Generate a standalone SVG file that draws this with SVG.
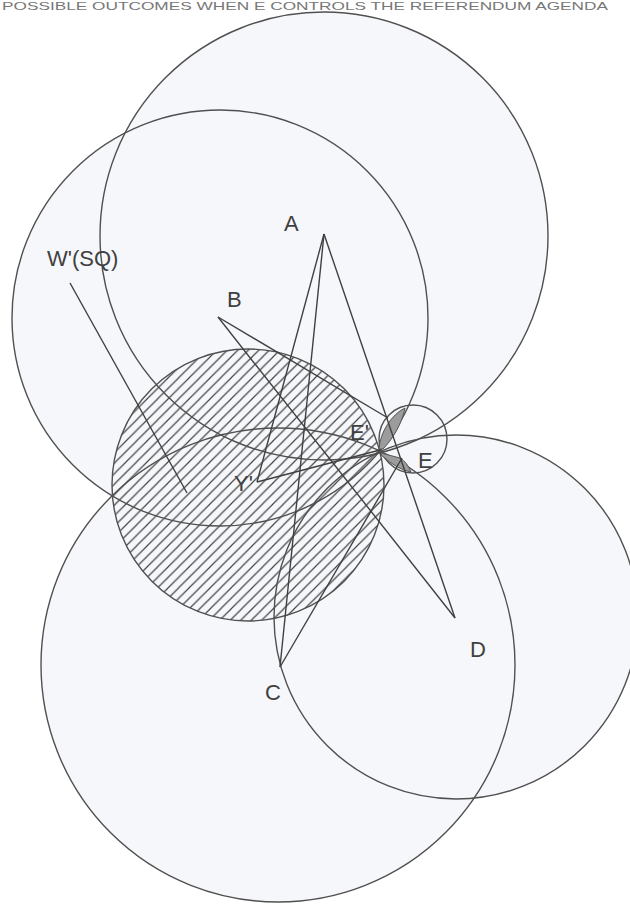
<svg xmlns="http://www.w3.org/2000/svg" width="630" height="907" viewBox="0 0 630 907">
<defs>
<pattern id="hatch" patternUnits="userSpaceOnUse" width="10.5" height="10.5">
<path d="M-2,2 L2,-2 M0,10.5 L10.5,0 M8.5,12.5 L12.5,8.5" stroke="#444" stroke-width="1.2"/>
</pattern>
<style>
.zone{fill:#f6f7fb;stroke:none}
.ring{fill:none;stroke:#505050;stroke-width:1.4}
.lbl{font-family:"Liberation Sans",Arial,sans-serif;font-size:22px;fill:#404040}
.edge{stroke:#404040;stroke-width:1.4;fill:none}
.lens{fill:#9c9c9c;stroke:#555;stroke-width:1}
</style>
</defs>
<rect width="630" height="907" fill="#fff"/>
<text x="2" y="10" font-family="Liberation Sans, Arial, sans-serif" font-size="11" fill="#777" textLength="606" lengthAdjust="spacingAndGlyphs">POSSIBLE OUTCOMES WHEN E CONTROLS THE REFERENDUM AGENDA</text>
<g id="fills">
<circle class="zone" cx="324" cy="236" r="224"/>
<circle class="zone" cx="220" cy="318" r="208"/>
<circle class="zone" cx="278" cy="665" r="237"/>
<circle class="zone" cx="456" cy="617" r="182"/>
<circle class="zone" cx="413" cy="439" r="34"/>
</g>
<g id="node-Yprime-region">
<circle cx="248" cy="485" r="136" fill="url(#hatch)" stroke="#505050" stroke-width="1.4"/>
</g>
<g id="node-A"><circle class="ring" cx="324" cy="236" r="224"/><text class="lbl" x="284" y="231">A</text></g>
<g id="node-B"><circle class="ring" cx="220" cy="318" r="208"/><text class="lbl" x="227" y="307">B</text></g>
<g id="node-C"><circle class="ring" cx="278" cy="665" r="237"/><text class="lbl" x="265" y="700">C</text></g>
<g id="node-D"><circle class="ring" cx="456" cy="617" r="182"/><text class="lbl" x="470" y="657">D</text></g>
<g id="node-E"><circle class="ring" cx="413" cy="439" r="34"/><text class="lbl" x="418" y="468">E</text></g>
<g id="lenses">
<path class="lens" d="M379,449 C380,432 392,414 405,408 C402,424 392,440 383,449 Z"/>
<path class="lens" d="M381,453 L400,458 Q407,462 411,472 Q398,470 381,455 Z"/>
</g>
<g id="connectors">
<line class="edge" x1="70" y1="283" x2="187" y2="493"/>
<line class="edge" x1="324" y1="234" x2="257" y2="482"/>
<line class="edge" x1="257" y1="482" x2="380" y2="450"/>
<line class="edge" x1="324" y1="234" x2="280" y2="667"/>
<line class="edge" x1="324" y1="234" x2="455" y2="618"/>
<line class="edge" x1="218" y1="317" x2="388" y2="418"/>
<line class="edge" x1="218" y1="317" x2="455" y2="618"/>
<line class="edge" x1="280" y1="667" x2="402" y2="458"/>
</g>
<g id="labels">
<text class="lbl" x="47" y="266">W'(SQ)</text>
<text class="lbl" x="350" y="440">E'</text>
<text class="lbl" x="234" y="491">Y'</text>
</g>
</svg>
